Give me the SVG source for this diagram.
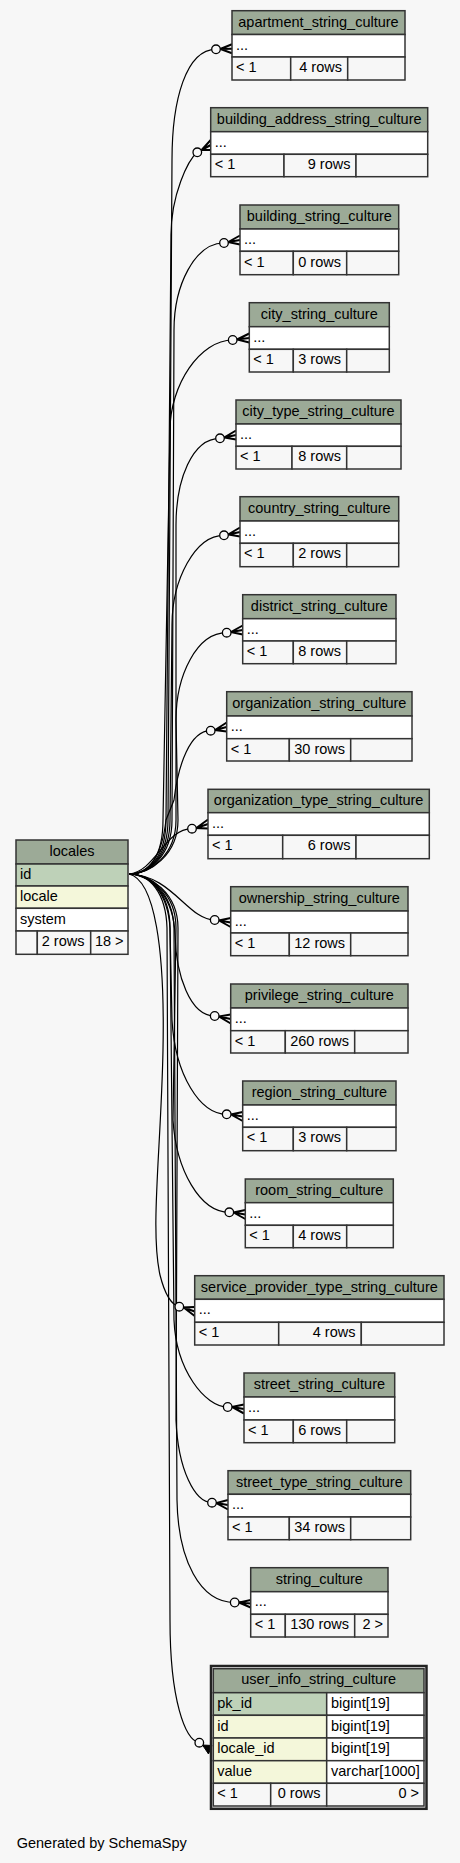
<svg xmlns="http://www.w3.org/2000/svg" width="460" height="1863" viewBox="0 0 460 1863">
<style>
.bg{fill:#f7f7f7}
rect{stroke:#333;stroke-width:1.5}
.hd{fill:#9caa97}
.wh{fill:#ffffff}
.ft{fill:#f7f7f7}
.pk{fill:#bed1b8}
.ix{fill:#f4f7da}
.ob{fill:none;stroke:#222;stroke-width:2.5}
text{font-family:"Liberation Sans",Arial,sans-serif;font-size:14.5px;fill:#000}
.c{text-anchor:middle}
.r{text-anchor:end}
.e{fill:none;stroke:#000;stroke-width:1.2}
.cr{fill:none;stroke:#000;stroke-width:2}
.od{fill:#f7f7f7;stroke:#000;stroke-width:1.3}
</style>
<rect class="bg" x="0" y="0" width="460" height="1863" style="stroke:none"/>
<g id="connectors">
<path class="e" d="M129,874 C150,874 168,855 168,820 L172,160 C172,100 186,49.3 216,49.3"/>
<path class="e" d="M129,874 C150,874 166,855 166,820 L171,235 C171,195 188,160 197.3,152.3"/>
<path class="e" d="M129,874 C150,874 172,855 172,820 L174,330 C174,285 195,243 224,243"/>
<path class="e" d="M129,874 C150,874 163,855 163,820 L170,430 C170,385 200,340 232.7,340"/>
<path class="e" d="M129,874 C150,874 176,855 176,820 L176,525 C176,480 192,438.3 220,438.3"/>
<path class="e" d="M129,874 C150,874 170,855 170,820 L172,625 C172,580 195,535.3 224,535.3"/>
<path class="e" d="M129,874 C150,874 178,855 178,820 L176,720 C176,675 197,632.7 226.7,632.7"/>
<path class="e" d="M129,874 C150,874 162,855 166,820 L174,800 C178,765 190,730.7 210.7,730.7"/>
<path class="e" d="M129,874 C155,872 165,828.7 192,828.7"/>
<path class="e" d="M129,874 C172,875 188,920 214.7,920"/>
<path class="e" d="M129,874 C155,876 174,900 175,935 C176,975 190,1016 214.7,1016"/>
<path class="e" d="M129,874 C150,874 170,893 170,928 L172,1020 C175,1075 200,1114.3 226.7,1114.3"/>
<path class="e" d="M129,874 C150,874 176,893 176,928 L173,1120 C176,1170 200,1212.3 229.3,1212.3"/>
<path class="e" d="M129,874 C155,880 165,950 163,1050 C161,1150 150,1230 160,1275 C165,1295 172,1305 179.3,1306.7"/>
<path class="e" d="M129,874 C150,874 168,893 170,928 L174,1320 C176,1370 205,1407 227.7,1407"/>
<path class="e" d="M129,874 C150,874 178,893 178,928 L176,1420 C178,1470 195,1502.7 212,1502.7"/>
<path class="e" d="M129,874 C150,874 173,893 174,928 L177,1500 C178,1560 200,1602.5 234.7,1602.5"/>
<path class="e" d="M129,874 C150,874 166,893 167,928 L170,1620 C170,1700 185,1740 199.3,1742.7"/>
<path class="cr" d="M232,44.3 L220.3,49 L232,53.3 M220.3,49 L232,48.8"/>
<path class="cr" d="M210.7,140 L201.6,150 L210.7,150 M201.6,150 L210.7,145"/>
<path class="cr" d="M240,235.5 L228.3,242 L240,244.5 M228.3,242 L240,240"/>
<path class="cr" d="M249.3,333.5 L237,339.5 L249.3,342.5 M237,339.5 L249.3,338"/>
<path class="cr" d="M236,430.5 L224.3,437.5 L236,439.5 M224.3,437.5 L236,435"/>
<path class="cr" d="M240,527.5 L228.3,534.5 L240,536.5 M228.3,534.5 L240,532"/>
<path class="cr" d="M242.7,625.5 L231,632 L242.7,634.5 M231,632 L242.7,630"/>
<path class="cr" d="M226.7,722.5 L215,730 L226.7,731.5 M215,730 L226.7,727"/>
<path class="cr" d="M208,819.5 L196.3,828 L208,828.5 M196.3,828 L208,824"/>
<path class="cr" d="M230.7,918 L219,920.5 L230.7,927 M219,920.5 L230.7,922.5"/>
<path class="cr" d="M230.7,1014.5 L219,1016.5 L230.7,1023.5 M219,1016.5 L230.7,1019"/>
<path class="cr" d="M242.7,1112 L231,1114.5 L242.7,1121 M231,1114.5 L242.7,1116.5"/>
<path class="cr" d="M245.3,1210 L233.6,1212.5 L245.3,1219 M233.6,1212.5 L245.3,1214.5"/>
<path class="cr" d="M194.7,1307 L183.6,1307.5 L194.7,1316 M183.6,1307.5 L194.7,1311.5"/>
<path class="cr" d="M244,1404.5 L232,1407 L244,1413.5 M232,1407 L244,1409"/>
<path class="cr" d="M228,1500 L216.3,1503 L228,1509.5 M216.3,1503 L228,1505"/>
<path class="cr" d="M250.7,1600 L239,1602.5 L250.7,1607.5 M239,1602.5 L250.7,1603.5"/>
<path d="M202.5,1745 L212,1745.5 L208.5,1754 Z" fill="#000" stroke="#000" stroke-width="1"/>
<circle class="od" cx="216" cy="49.3" r="4.3"/>
<circle class="od" cx="197.3" cy="152.3" r="4.3"/>
<circle class="od" cx="224" cy="243" r="4.3"/>
<circle class="od" cx="232.7" cy="340" r="4.3"/>
<circle class="od" cx="220" cy="438.3" r="4.3"/>
<circle class="od" cx="224" cy="535.3" r="4.3"/>
<circle class="od" cx="226.7" cy="632.7" r="4.3"/>
<circle class="od" cx="210.7" cy="730.7" r="4.3"/>
<circle class="od" cx="192" cy="828.7" r="4.3"/>
<circle class="od" cx="214.7" cy="920" r="4.3"/>
<circle class="od" cx="214.7" cy="1016" r="4.3"/>
<circle class="od" cx="226.7" cy="1114.3" r="4.3"/>
<circle class="od" cx="229.3" cy="1212.3" r="4.3"/>
<circle class="od" cx="179.3" cy="1306.7" r="4.3"/>
<circle class="od" cx="227.7" cy="1407" r="4.3"/>
<circle class="od" cx="212" cy="1502.7" r="4.3"/>
<circle class="od" cx="234.7" cy="1602.5" r="4.3"/>
<circle class="od" cx="199.3" cy="1742.7" r="4.3"/>
</g>
<g id="apartment_string_culture">
<rect class="hd" x="232" y="10.7" width="173" height="23.8"/>
<rect class="wh" x="232" y="34.5" width="173" height="22.5"/>
<rect class="ft" x="232" y="57" width="58.7" height="23"/>
<rect class="ft" x="290.7" y="57" width="57" height="23"/>
<rect class="ft" x="347.7" y="57" width="57.3" height="23"/>
<text class="c" x="318.5" y="26.7">apartment_string_culture</text>
<text x="236" y="49.5">...</text>
<text x="236" y="72">&lt; 1</text>
<text class="r" x="342" y="72">4 rows</text>
</g>
<g id="building_address_string_culture">
<rect class="hd" x="210.7" y="107.7" width="217" height="24"/>
<rect class="wh" x="210.7" y="131.7" width="217" height="22.6"/>
<rect class="ft" x="210.7" y="154.3" width="73.3" height="22.4"/>
<rect class="ft" x="284" y="154.3" width="72" height="22.4"/>
<rect class="ft" x="356" y="154.3" width="71.7" height="22.4"/>
<text class="c" x="319.2" y="123.7">building_address_string_culture</text>
<text x="214.7" y="146.5">...</text>
<text x="214.7" y="169">&lt; 1</text>
<text class="r" x="350.5" y="169">9 rows</text>
</g>
<g id="building_string_culture">
<rect class="hd" x="240" y="205" width="158.7" height="24"/>
<rect class="wh" x="240" y="229" width="158.7" height="22.3"/>
<rect class="ft" x="240" y="251.3" width="53.3" height="23.4"/>
<rect class="ft" x="293.3" y="251.3" width="53.4" height="23.4"/>
<rect class="ft" x="346.7" y="251.3" width="52" height="23.4"/>
<text class="c" x="319.35" y="221">building_string_culture</text>
<text x="244" y="244">...</text>
<text x="244" y="266.5">&lt; 1</text>
<text class="r" x="341" y="266.5">0 rows</text>
</g>
<g id="city_string_culture">
<rect class="hd" x="249.3" y="302.7" width="140" height="24"/>
<rect class="wh" x="249.3" y="326.7" width="140" height="22.6"/>
<rect class="ft" x="249.3" y="349.3" width="44" height="22.7"/>
<rect class="ft" x="293.3" y="349.3" width="53.4" height="22.7"/>
<rect class="ft" x="346.7" y="349.3" width="42.6" height="22.7"/>
<text class="c" x="319.3" y="318.7">city_string_culture</text>
<text x="253.3" y="341.7">...</text>
<text x="253.3" y="364.3">&lt; 1</text>
<text class="r" x="341" y="364.3">3 rows</text>
</g>
<g id="city_type_string_culture">
<rect class="hd" x="236" y="400" width="165" height="24"/>
<rect class="wh" x="236" y="424" width="165" height="22.3"/>
<rect class="ft" x="236" y="446.3" width="56" height="22.7"/>
<rect class="ft" x="292" y="446.3" width="54.7" height="22.7"/>
<rect class="ft" x="346.7" y="446.3" width="54.3" height="22.7"/>
<text class="c" x="318.5" y="416">city_type_string_culture</text>
<text x="240" y="439">...</text>
<text x="240" y="461.3">&lt; 1</text>
<text class="r" x="341" y="461.3">8 rows</text>
</g>
<g id="country_string_culture">
<rect class="hd" x="240" y="496.7" width="158.7" height="24.3"/>
<rect class="wh" x="240" y="521" width="158.7" height="22.3"/>
<rect class="ft" x="240" y="543.3" width="53.3" height="23.4"/>
<rect class="ft" x="293.3" y="543.3" width="53.4" height="23.4"/>
<rect class="ft" x="346.7" y="543.3" width="52" height="23.4"/>
<text class="c" x="319.35" y="512.7">country_string_culture</text>
<text x="244" y="536">...</text>
<text x="244" y="558.3">&lt; 1</text>
<text class="r" x="341" y="558.3">2 rows</text>
</g>
<g id="district_string_culture">
<rect class="hd" x="242.7" y="594.7" width="153.3" height="24"/>
<rect class="wh" x="242.7" y="618.7" width="153.3" height="22.3"/>
<rect class="ft" x="242.7" y="641" width="50.6" height="22.7"/>
<rect class="ft" x="293.3" y="641" width="53.4" height="22.7"/>
<rect class="ft" x="346.7" y="641" width="49.3" height="22.7"/>
<text class="c" x="319.35" y="610.7">district_string_culture</text>
<text x="246.7" y="633.7">...</text>
<text x="246.7" y="656">&lt; 1</text>
<text class="r" x="341" y="656">8 rows</text>
</g>
<g id="organization_string_culture">
<rect class="hd" x="226.7" y="691.7" width="185.3" height="24.3"/>
<rect class="wh" x="226.7" y="716" width="185.3" height="22.7"/>
<rect class="ft" x="226.7" y="738.7" width="62.6" height="22.3"/>
<rect class="ft" x="289.3" y="738.7" width="61.4" height="22.3"/>
<rect class="ft" x="350.7" y="738.7" width="61.3" height="22.3"/>
<text class="c" x="319.35" y="707.7">organization_string_culture</text>
<text x="230.7" y="731">...</text>
<text x="230.7" y="753.7">&lt; 1</text>
<text class="r" x="345" y="753.7">30 rows</text>
</g>
<g id="organization_type_string_culture">
<rect class="hd" x="208" y="789.3" width="221.3" height="23.4"/>
<rect class="wh" x="208" y="812.7" width="221.3" height="22.6"/>
<rect class="ft" x="208" y="835.3" width="74.7" height="23.4"/>
<rect class="ft" x="282.7" y="835.3" width="73.3" height="23.4"/>
<rect class="ft" x="356" y="835.3" width="73.3" height="23.4"/>
<text class="c" x="318.65" y="805.3">organization_type_string_culture</text>
<text x="212" y="827.7">...</text>
<text x="212" y="850.3">&lt; 1</text>
<text class="r" x="350.5" y="850.3">6 rows</text>
</g>
<g id="locales">
<rect class="hd" x="16" y="840" width="112" height="24"/>
<rect class="pk" x="16" y="864" width="112" height="22"/>
<rect class="ix" x="16" y="886" width="112" height="22.3"/>
<rect class="wh" x="16" y="908.3" width="112" height="22.7"/>
<rect class="ft" x="16" y="931" width="21.3" height="23.3"/>
<rect class="ft" x="37.3" y="931" width="53.4" height="23.3"/>
<rect class="ft" x="90.7" y="931" width="37.3" height="23.3"/>
<text class="c" x="72" y="855.5">locales</text>
<text x="20" y="879">id</text>
<text x="20" y="901">locale</text>
<text x="20" y="923.5">system</text>
<text class="r" x="84.5" y="946">2 rows</text>
<text class="r" x="123.5" y="946">18 &gt;</text>
</g>
<g id="ownership_string_culture">
<rect class="hd" x="230.7" y="886.7" width="177.3" height="24.3"/>
<rect class="wh" x="230.7" y="911" width="177.3" height="22"/>
<rect class="ft" x="230.7" y="933" width="58.6" height="22.7"/>
<rect class="ft" x="289.3" y="933" width="61.4" height="22.7"/>
<rect class="ft" x="350.7" y="933" width="57.3" height="22.7"/>
<text class="c" x="319.35" y="902.7">ownership_string_culture</text>
<text x="234.7" y="926">...</text>
<text x="234.7" y="948">&lt; 1</text>
<text class="r" x="345" y="948">12 rows</text>
</g>
<g id="privilege_string_culture">
<rect class="hd" x="230.7" y="984" width="177.3" height="24"/>
<rect class="wh" x="230.7" y="1008" width="177.3" height="22.7"/>
<rect class="ft" x="230.7" y="1030.7" width="54.6" height="22.3"/>
<rect class="ft" x="285.3" y="1030.7" width="69.4" height="22.3"/>
<rect class="ft" x="354.7" y="1030.7" width="53.3" height="22.3"/>
<text class="c" x="319.35" y="1000">privilege_string_culture</text>
<text x="234.7" y="1023">...</text>
<text x="234.7" y="1045.7">&lt; 1</text>
<text class="r" x="349" y="1045.7">260 rows</text>
</g>
<g id="region_string_culture">
<rect class="hd" x="242.7" y="1081" width="153.3" height="24"/>
<rect class="wh" x="242.7" y="1105" width="153.3" height="22.3"/>
<rect class="ft" x="242.7" y="1127.3" width="50.6" height="23.4"/>
<rect class="ft" x="293.3" y="1127.3" width="53.4" height="23.4"/>
<rect class="ft" x="346.7" y="1127.3" width="49.3" height="23.4"/>
<text class="c" x="319.35" y="1097">region_string_culture</text>
<text x="246.7" y="1120">...</text>
<text x="246.7" y="1142.3">&lt; 1</text>
<text class="r" x="341" y="1142.3">3 rows</text>
</g>
<g id="room_string_culture">
<rect class="hd" x="245.3" y="1179" width="148" height="23.7"/>
<rect class="wh" x="245.3" y="1202.7" width="148" height="22.6"/>
<rect class="ft" x="245.3" y="1225.3" width="48" height="22.4"/>
<rect class="ft" x="293.3" y="1225.3" width="53.4" height="22.4"/>
<rect class="ft" x="346.7" y="1225.3" width="46.6" height="22.4"/>
<text class="c" x="319.3" y="1195">room_string_culture</text>
<text x="249.3" y="1217.7">...</text>
<text x="249.3" y="1240.3">&lt; 1</text>
<text class="r" x="341" y="1240.3">4 rows</text>
</g>
<g id="service_provider_type_string_culture">
<rect class="hd" x="194.7" y="1275.7" width="249.3" height="23.6"/>
<rect class="wh" x="194.7" y="1299.3" width="249.3" height="23"/>
<rect class="ft" x="194.7" y="1322.3" width="84" height="22.7"/>
<rect class="ft" x="278.7" y="1322.3" width="82.6" height="22.7"/>
<rect class="ft" x="361.3" y="1322.3" width="82.7" height="22.7"/>
<text class="c" x="319.35" y="1291.7">service_provider_type_string_culture</text>
<text x="198.7" y="1314.3">...</text>
<text x="198.7" y="1337.3">&lt; 1</text>
<text class="r" x="355.5" y="1337.3">4 rows</text>
</g>
<g id="street_string_culture">
<rect class="hd" x="244" y="1373" width="150.7" height="24"/>
<rect class="wh" x="244" y="1397" width="150.7" height="23"/>
<rect class="ft" x="244" y="1420" width="49.3" height="22.7"/>
<rect class="ft" x="293.3" y="1420" width="53.4" height="22.7"/>
<rect class="ft" x="346.7" y="1420" width="48" height="22.7"/>
<text class="c" x="319.35" y="1389">street_string_culture</text>
<text x="248" y="1412">...</text>
<text x="248" y="1435">&lt; 1</text>
<text class="r" x="341" y="1435">6 rows</text>
</g>
<g id="street_type_string_culture">
<rect class="hd" x="228" y="1470.7" width="182.7" height="23.6"/>
<rect class="wh" x="228" y="1494.3" width="182.7" height="22.7"/>
<rect class="ft" x="228" y="1517" width="61.3" height="22.7"/>
<rect class="ft" x="289.3" y="1517" width="61.4" height="22.7"/>
<rect class="ft" x="350.7" y="1517" width="60" height="22.7"/>
<text class="c" x="319.35" y="1486.7">street_type_string_culture</text>
<text x="232" y="1509.3">...</text>
<text x="232" y="1532">&lt; 1</text>
<text class="r" x="345" y="1532">34 rows</text>
</g>
<g id="string_culture">
<rect class="hd" x="250.7" y="1567.7" width="137.3" height="24"/>
<rect class="wh" x="250.7" y="1591.7" width="137.3" height="22.6"/>
<rect class="ft" x="250.7" y="1614.3" width="34.6" height="22.7"/>
<rect class="ft" x="285.3" y="1614.3" width="69.4" height="22.7"/>
<rect class="ft" x="354.7" y="1614.3" width="33.3" height="22.7"/>
<text class="c" x="319.35" y="1583.7">string_culture</text>
<text x="254.7" y="1606.3">...</text>
<text x="254.7" y="1629">&lt; 1</text>
<text class="r" x="349" y="1629">130 rows</text>
<text class="r" x="383" y="1629">2 &gt;</text>
</g>
<g id="user_info_string_culture">
<rect class="ob" x="211" y="1666" width="215.5" height="142.8"/>
<rect class="hd" x="213.3" y="1668.7" width="210.7" height="24"/>
<rect class="pk" x="213.3" y="1692.7" width="113.4" height="22.6"/>
<rect class="wh" x="326.7" y="1692.7" width="97.3" height="22.6"/>
<rect class="ix" x="213.3" y="1715.3" width="113.4" height="22.7"/>
<rect class="wh" x="326.7" y="1715.3" width="97.3" height="22.7"/>
<rect class="ix" x="213.3" y="1738" width="113.4" height="22.7"/>
<rect class="wh" x="326.7" y="1738" width="97.3" height="22.7"/>
<rect class="ix" x="213.3" y="1760.7" width="113.4" height="22.6"/>
<rect class="wh" x="326.7" y="1760.7" width="97.3" height="22.6"/>
<rect class="ft" x="213.3" y="1783.3" width="57.4" height="22.7"/>
<rect class="ft" x="270.7" y="1783.3" width="56" height="22.7"/>
<rect class="ft" x="326.7" y="1783.3" width="97.3" height="22.7"/>
<text class="c" x="318.65" y="1684.3">user_info_string_culture</text>
<text x="217.3" y="1708.3">pk_id</text>
<text x="331" y="1708.3">bigint[19]</text>
<text x="217.3" y="1730.7">id</text>
<text x="331" y="1730.7">bigint[19]</text>
<text x="217.3" y="1753.3">locale_id</text>
<text x="331" y="1753.3">bigint[19]</text>
<text x="217.3" y="1776">value</text>
<text x="331" y="1776">varchar[1000]</text>
<text x="217.3" y="1798.3">&lt; 1</text>
<text class="r" x="320.5" y="1798.3">0 rows</text>
<text class="r" x="419" y="1798.3">0 &gt;</text>
</g>
<text x="16.7" y="1848">Generated by SchemaSpy</text>
</svg>
